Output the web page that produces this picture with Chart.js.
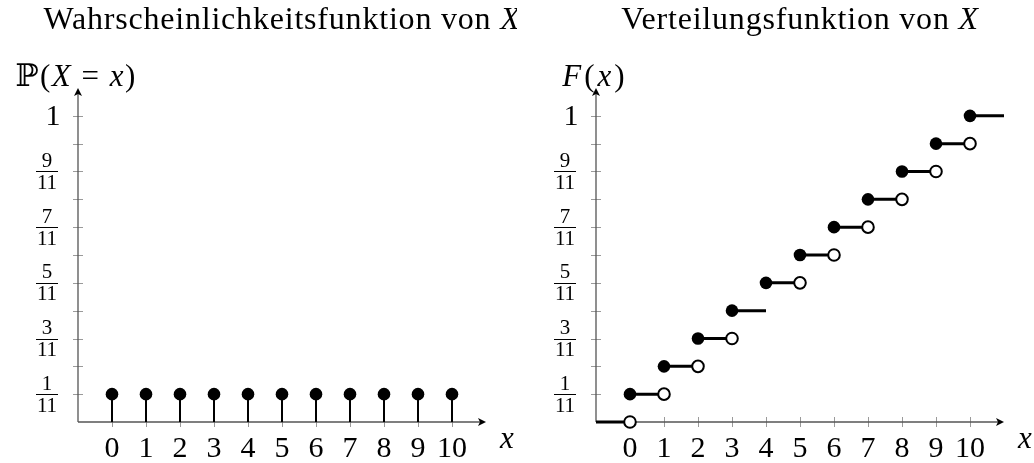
<!DOCTYPE html>
<html>
<head>
<meta charset="utf-8">
<script src="https://cdn.jsdelivr.net/npm/chart.js@4.4.1/dist/chart.umd.min.js"></script>
<style>
  html, body { margin: 0; padding: 0; background: #fff; }
  .wrap { display: flex; width: 1034px; height: 463px; }
  .panel { width: 517px; height: 463px; }
  canvas { display: block; }
</style>
</head>
<body>
<div class="wrap">
  <div class="panel"><canvas id="chartPmf" width="517" height="463"></canvas></div>
  <div class="panel"><canvas id="chartCdf" width="517" height="463"></canvas></div>
</div>
<script>
// --- Dados ---
const xValues = [0, 1, 2, 3, 4, 5, 6, 7, 8, 9, 10];
const pmfValues = [1/11, 1/11, 1/11, 1/11, 1/11, 1/11, 1/11, 1/11, 1/11, 1/11, 1/11];
const cdfValues = [1/11, 2/11, 3/11, 4/11, 5/11, 6/11, 7/11, 8/11, 9/11, 10/11, 11/11];

// Degraus da função de distribuição (início, fim, nível)
const stepFrom  = [-1, 0, 1, 2, 3, 4, 5, 6, 7, 8, 9, 10];
const stepTo    = [0, 1, 2, 3, 4, 5, 6, 7, 8, 9, 10, 11];
const stepLevel = [0, 1/11, 2/11, 3/11, 4/11, 5/11, 6/11, 7/11, 8/11, 9/11, 10/11, 11/11];

// Bolinhas abertas (limite pela esquerda)
const openX = [0, 1, 2, 3, 5, 6, 7, 8, 9, 10];
const openY = [0, 1/11, 2/11, 3/11, 5/11, 6/11, 7/11, 8/11, 9/11, 10/11];

// Eixos
const xTicks = [0, 1, 2, 3, 4, 5, 6, 7, 8, 9, 10];
const yTicks = [1/11, 2/11, 3/11, 4/11, 5/11, 6/11, 7/11, 8/11, 9/11, 10/11, 11/11];
const yLabelValues = [1/11, 3/11, 5/11, 7/11, 9/11];
const yLabelNum = ['1', '3', '5', '7', '9'];
const yLabelDen = ['11', '11', '11', '11', '11'];
const X_MIN = -1, X_MAX = 11, Y_MIN = 0, Y_MAX = 12/11;

const SERIF = '"Liberation Serif", "DejaVu Serif", serif';

// Texto com partes em itálico (modo matemático)
function drawMixed(ctx, parts, cx, cy, size, spacing) {
    const fontOf = it => (it ? 'italic ' : '') + size + 'px ' + SERIF;
    ctx.letterSpacing = (spacing || 0) + 'px';
    let total = 0;
    parts.forEach(p => { ctx.font = fontOf(p[1]); total += ctx.measureText(p[0]).width; });
    let x = cx - total / 2;
    ctx.textAlign = 'left';
    ctx.textBaseline = 'middle';
    parts.forEach(p => {
        ctx.font = fontOf(p[1]);
        ctx.fillText(p[0], x, cy);
        x += ctx.measureText(p[0]).width;
    });
    ctx.letterSpacing = '0px';
}

// --- Plugin dos eixos estilo TikZ ---
const axesPlugin = {
    id: 'axesPlugin',
    beforeDatasetsDraw(chart, args, opts) {
        const { ctx, chartArea: a, scales: { x, y } } = chart;
        const x0 = a.left, y0 = y.getPixelForValue(0);
        ctx.save();
        // marcas
        ctx.strokeStyle = '#9a9a9a';
        ctx.lineWidth = 1;
        ctx.beginPath();
        xTicks.forEach(t => {
            const px = Math.round(x.getPixelForValue(t)) + 0.5;
            ctx.moveTo(px, y0 - 5); ctx.lineTo(px, y0 + 5);
        });
        yTicks.forEach(v => {
            const py = Math.round(y.getPixelForValue(v)) + 0.5;
            ctx.moveTo(x0 - 5, py); ctx.lineTo(x0 + 5, py);
        });
        ctx.stroke();
        // linhas dos eixos
        ctx.strokeStyle = '#555';
        ctx.lineWidth = 1.3;
        ctx.beginPath();
        ctx.moveTo(x0, y0); ctx.lineTo(a.right - 2, y0);
        ctx.moveTo(x0, y0); ctx.lineTo(x0, a.top + 2);
        ctx.stroke();
        // pontas de seta
        ctx.fillStyle = '#000';
        ctx.beginPath();
        ctx.moveTo(a.right, y0);
        ctx.lineTo(a.right - 8, y0 - 4);
        ctx.lineTo(a.right - 6, y0);
        ctx.lineTo(a.right - 8, y0 + 4);
        ctx.closePath();
        ctx.fill();
        ctx.beginPath();
        ctx.moveTo(x0, a.top);
        ctx.lineTo(x0 - 4, a.top + 8);
        ctx.lineTo(x0, a.top + 6);
        ctx.lineTo(x0 + 4, a.top + 8);
        ctx.closePath();
        ctx.fill();
        ctx.restore();
    },
    afterDraw(chart, args, opts) {
        const { ctx, chartArea: a, scales: { x, y } } = chart;
        const x0 = a.left, y0 = y.getPixelForValue(0);
        ctx.save();
        ctx.fillStyle = '#000';
        // título
        drawMixed(ctx, opts.title, (a.left + a.right) / 2, 21, 32, 0.8);
        // rótulo do eixo y
        drawMixed(ctx, opts.yTitle, x0 + opts.yTitleShift, 78, 31, opts.yTitleSpacing);
        // rótulo do eixo x
        drawMixed(ctx, [['x', true]], a.right + 21, 440, 31);
        // números do eixo x
        ctx.font = '30px ' + SERIF;
        ctx.textAlign = 'center';
        ctx.textBaseline = 'middle';
        xTicks.forEach(t => ctx.fillText(String(t), x.getPixelForValue(t), y0 + 27));
        // frações do eixo y
        const cx = x0 - 31;
        ctx.font = '21px ' + SERIF;
        ctx.lineWidth = 1;
        ctx.strokeStyle = '#000';
        yLabelValues.forEach((v, i) => {
            const py = y.getPixelForValue(v);
            ctx.fillText(yLabelNum[i], cx, py - 10);
            ctx.fillText(yLabelDen[i], cx, py + 12);
            ctx.beginPath();
            ctx.moveTo(cx - 11, Math.round(py) + 0.5);
            ctx.lineTo(cx + 11, Math.round(py) + 0.5);
            ctx.stroke();
        });
        ctx.font = '30px ' + SERIF;
        ctx.fillText('1', x0 - 25, y.getPixelForValue(1) + 1);
        ctx.restore();
    }
};

function baseOptions(padLeft, padRight, title, yTitle, yTitleShift, yTitleSpacing) {
    return {
        responsive: false,
        animation: false,
        devicePixelRatio: 1,
        layout: { padding: { left: padLeft, right: padRight, top: 88, bottom: 41 } },
        plugins: {
            legend: { display: false },
            tooltip: { enabled: false },
            axesPlugin: { title, yTitle, yTitleShift, yTitleSpacing }
        },
        scales: {
            x: { type: 'linear', min: X_MIN, max: X_MAX, display: false },
            y: { type: 'linear', min: Y_MIN, max: Y_MAX, display: false }
        }
    };
}

// --- Gráfico 1: Função de probabilidade ---
const stemData = [];
xValues.forEach((xv, i) => {
    stemData.push({ x: xv, y: 0 }, { x: xv, y: pmfValues[i] }, { x: xv, y: null });
});

new Chart(document.getElementById('chartPmf'), {
    type: 'scatter',
    data: {
        datasets: [
            {
                data: xValues.map((xv, i) => ({ x: xv, y: pmfValues[i] })),
                pointRadius: 6.3, pointBackgroundColor: '#000', pointBorderWidth: 0,
                showLine: false, clip: false, order: 0
            },
            {
                data: stemData, showLine: true, spanGaps: false,
                borderColor: '#000', borderWidth: 2, pointRadius: 0, clip: false, order: 1
            }
        ]
    },
    options: baseOptions(78, 31,
        [['Wahrscheinlichkeitsfunktion von ', false], ['X', true]],
        [['\u2119(', false], ['X', true], ['\u2005=\u2005', false], ['x', true], [')', false]],
        -2, 1.5),
    plugins: [axesPlugin]
});

// --- Gráfico 2: Função de distribuição ---
const stepData = [];
stepFrom.forEach((from, i) => {
    stepData.push({ x: from, y: stepLevel[i] }, { x: stepTo[i], y: stepLevel[i] }, { x: stepTo[i], y: null });
});

new Chart(document.getElementById('chartCdf'), {
    type: 'scatter',
    data: {
        datasets: [
            {
                data: openX.map((xv, i) => ({ x: xv, y: openY[i] })),
                pointRadius: 5.8, pointBackgroundColor: '#fff', pointBorderColor: '#000',
                pointBorderWidth: 2, showLine: false, clip: false, order: 0
            },
            {
                data: xValues.map((xv, i) => ({ x: xv, y: cdfValues[i] })),
                pointRadius: 6.3, pointBackgroundColor: '#000', pointBorderWidth: 0,
                showLine: false, clip: false, order: 1
            },
            {
                data: stepData, showLine: true, spanGaps: false,
                borderColor: '#000', borderWidth: 3, pointRadius: 0, clip: false, order: 2
            }
        ]
    },
    options: baseOptions(79, 30,
        [['Verteilungsfunktion von ', false], ['X', true]],
        [['F', true], ['(', false], ['x', true], [')', false]],
        -1, 3),
    plugins: [axesPlugin]
});
</script>
</body>
</html>
